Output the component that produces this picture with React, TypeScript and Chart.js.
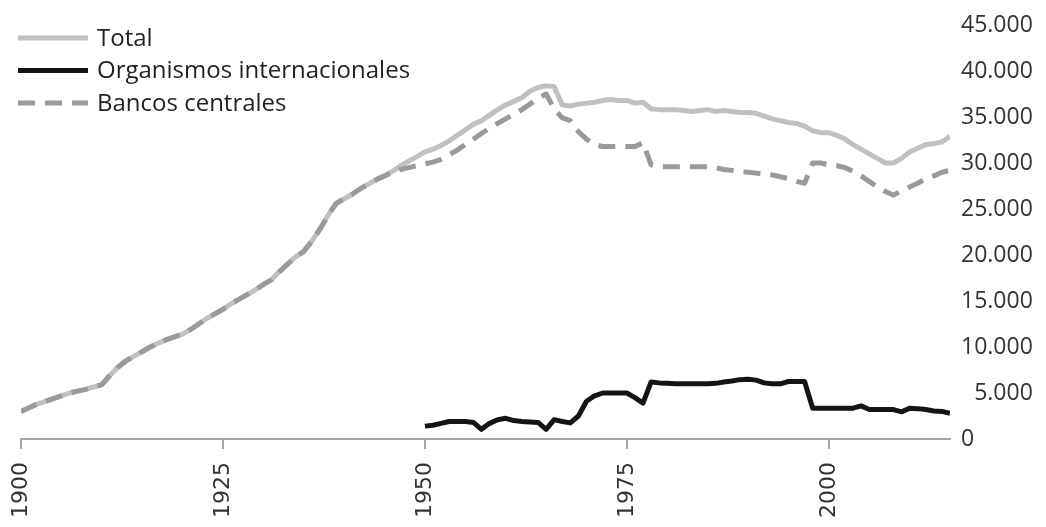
import React, { useEffect, useRef } from 'react';
import { Chart, registerables } from 'chart.js';

Chart.register(...registerables);

const firstYear = 1900;
const orgFirstYear = 1950;

const totalValues = [
  3000, 3400, 3800, 4100, 4400, 4700, 5000, 5200, 5400, 5650,
  5900, 6900, 7800, 8500, 9000, 9500, 10000, 10400, 10800, 11100,
  11400, 11900, 12500, 13100, 13600, 14100, 14700, 15200, 15700, 16200,
  16800, 17300, 18200, 19000, 19800, 20400, 21500, 22800, 24300, 25600,
  26100, 26600, 27200, 27700, 28200, 28600, 29100, 29700, 30200, 30700,
  31200, 31500, 31900, 32400, 33000, 33600, 34200, 34600, 35200, 35800,
  36300, 36700, 37100, 37800, 38200, 38400, 38300, 36300, 36200, 36400,
  36500, 36600, 36800, 36900, 36800, 36800, 36500, 36600, 35900, 35800,
  35800, 35800, 35700, 35600, 35700, 35800, 35600, 35700, 35600, 35500,
  35500, 35400, 35100, 34800, 34600, 34400, 34300, 34000, 33500, 33300,
  33300, 33000, 32600, 32000, 31500, 31000, 30500, 30000, 30000, 30500,
  31200, 31600, 32000, 32100, 32300, 32900,
];

const bancosValues = [
  3000, 3400, 3800, 4100, 4400, 4700, 5000, 5200, 5400, 5650,
  5900, 6900, 7800, 8500, 9000, 9500, 10000, 10400, 10800, 11100,
  11400, 11900, 12500, 13100, 13600, 14100, 14700, 15200, 15700, 16200,
  16800, 17300, 18200, 19000, 19800, 20400, 21500, 22800, 24300, 25600,
  26100, 26600, 27200, 27700, 28200, 28600, 29000, 29300, 29500, 29700,
  29900, 30100, 30400, 30900, 31400, 32000, 32600, 33200, 33800, 34300,
  34800, 35300, 35800, 36400, 37000, 37500, 35900, 34900, 34600, 33400,
  32600, 32000, 31800, 31800, 31800, 31800, 31800, 32200, 29800, 29600,
  29600, 29600, 29600, 29600, 29600, 29600, 29500, 29300, 29200, 29100,
  29000, 28900, 28800, 28700, 28500, 28300, 28000, 27800, 30000, 30000,
  29800, 29700, 29500, 29100, 28600, 28000, 27400, 26900, 26500, 27000,
  27400, 27800, 28300, 28600, 29000, 29200,
];

const organismosValues = [
  1400, 1500, 1700, 1900, 1900, 1900, 1800, 1050, 1700, 2100,
  2250, 2000, 1900, 1850, 1800, 1050, 2100, 1900, 1750, 2500,
  4100, 4700, 5000, 5000, 5000, 5000, 4500, 3900, 6200, 6100,
  6050, 6000, 6000, 6000, 6000, 6000, 6050, 6200, 6300, 6450,
  6500, 6400, 6100, 6000, 6000, 6250, 6250, 6250, 3350, 3350,
  3350, 3350, 3350, 3350, 3600, 3200, 3200, 3200, 3200, 2950,
  3350, 3300, 3200, 3050, 3000, 2800,
];

const seriesLabels = ['Total', 'Organismos internacionales', 'Bancos centrales'];
const xTickValues = [1900, 1925, 1950, 1975, 2000];

function toPoints(values: number[], start: number) {
  return values.map((v, i) => ({ x: start + i, y: v }));
}

function formatThousands(v: number) {
  const s = String(v).replace(/\B(?=(\d{3})+(?!\d))/g, '.');
  if (v > 0 && s.length < 6) return '\u2007' + s;
  return s;
}

const legendPlugin = {
  id: 'insideLegend',
  afterDraw(chart: any) {
    const ctx = chart.ctx;
    ctx.save();
    chart.data.datasets.forEach((ds: any, i: number) => {
      const y = 38 + i * 32.5;
      ctx.beginPath();
      ctx.setLineDash(ds.borderDash || []);
      ctx.lineWidth = ds.borderWidth;
      ctx.strokeStyle = ds.borderColor;
      ctx.moveTo(18, y);
      ctx.lineTo(88, y);
      ctx.stroke();
      ctx.setLineDash([]);
      ctx.fillStyle = '#231f20';
      ctx.font = '24px "Open Sans"';
      ctx.textBaseline = 'middle';
      ctx.textAlign = 'left';
      ctx.fillText(ds.label, 97, y + 1);
    });
    ctx.restore();
  },
};

export default function App() {
  const canvasRef = useRef<HTMLCanvasElement | null>(null);

  useEffect(() => {
    if (!canvasRef.current) return;
    const chart = new Chart(canvasRef.current, {
      type: 'line',
      data: {
        datasets: [
          {
            label: seriesLabels[0],
            data: toPoints(totalValues, firstYear),
            borderColor: '#c0c0c0',
            borderWidth: 5,
            pointRadius: 0,
            borderJoinStyle: 'round',
            order: 3,
          },
          {
            label: seriesLabels[1],
            data: toPoints(organismosValues, orgFirstYear),
            borderColor: '#141414',
            borderWidth: 5,
            pointRadius: 0,
            borderJoinStyle: 'round',
            order: 1,
          },
          {
            label: seriesLabels[2],
            data: toPoints(bancosValues, firstYear),
            borderColor: '#9a9a9a',
            borderWidth: 5,
            borderDash: [17, 10],
            pointRadius: 0,
            borderJoinStyle: 'round',
            order: 2,
          },
        ],
      },
      options: {
        responsive: false,
        animation: false,
        layout: { padding: { left: 21, top: 25, right: 0, bottom: 0 } },
        plugins: {
          legend: { display: false },
          tooltip: { enabled: false },
        },
        scales: {
          x: {
            type: 'linear',
            min: 1900,
            max: 2015,
            border: { display: true, color: '#a6a6a6', width: 2 },
            grid: {
              display: true,
              drawOnChartArea: false,
              drawTicks: true,
              tickLength: 10,
              color: '#a6a6a6',
              lineWidth: 2,
            },
            afterBuildTicks: (scale: any) => {
              scale.ticks = xTickValues.map((v) => ({ value: v }));
            },
            ticks: {
              autoSkip: false,
              minRotation: 90,
              maxRotation: 90,
              padding: 13,
              color: '#333333',
              font: { family: 'DejaVu Sans', size: 22 },
              callback: (v: any) => String(v),
            },
            afterFit: (scale: any) => {
              scale.height = 88;
            },
          },
          y: {
            position: 'right',
            min: 0,
            max: 45000,
            border: { display: false },
            grid: { display: false, drawTicks: false },
            ticks: {
              stepSize: 5000,
              padding: 11,
              color: '#333333',
              font: { family: 'Open Sans', size: 23 },
              callback: (v: any) => formatThousands(Number(v)),
            },
            afterFit: (scale: any) => {
              scale.width = 96;
            },
          },
        },
      },
      plugins: [legendPlugin],
    });
    return () => chart.destroy();
  }, []);

  return (
    <div style={{ position: 'absolute', left: 0, top: 0, width: 1046, height: 527, background: '#fff' }}>
      <canvas ref={canvasRef} width={1046} height={527} />
    </div>
  );
}
